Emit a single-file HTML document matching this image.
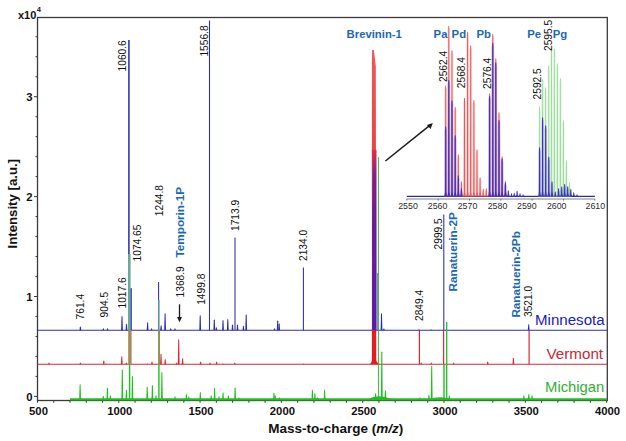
<!DOCTYPE html>
<html><head><meta charset="utf-8"><style>
html,body{margin:0;padding:0;background:#fff;}
svg{display:block;}
text{font-family:"Liberation Sans",sans-serif;}
</style></head><body>
<svg width="626" height="441" viewBox="0 0 626 441">
<rect width="626" height="441" fill="#fff"/>
<rect x="37.5" y="17.5" width="569.8" height="383" fill="none" stroke="#3a3a3a" stroke-width="1.3"/>
<line x1="34.00" y1="396.40" x2="37.5" y2="396.40" stroke="#3a3a3a" stroke-width="1"/>
<line x1="35.50" y1="376.42" x2="37.5" y2="376.42" stroke="#3a3a3a" stroke-width="1"/>
<line x1="35.50" y1="356.44" x2="37.5" y2="356.44" stroke="#3a3a3a" stroke-width="1"/>
<line x1="35.50" y1="336.46" x2="37.5" y2="336.46" stroke="#3a3a3a" stroke-width="1"/>
<line x1="35.50" y1="316.48" x2="37.5" y2="316.48" stroke="#3a3a3a" stroke-width="1"/>
<line x1="34.00" y1="296.50" x2="37.5" y2="296.50" stroke="#3a3a3a" stroke-width="1"/>
<line x1="35.50" y1="276.52" x2="37.5" y2="276.52" stroke="#3a3a3a" stroke-width="1"/>
<line x1="35.50" y1="256.54" x2="37.5" y2="256.54" stroke="#3a3a3a" stroke-width="1"/>
<line x1="35.50" y1="236.56" x2="37.5" y2="236.56" stroke="#3a3a3a" stroke-width="1"/>
<line x1="35.50" y1="216.58" x2="37.5" y2="216.58" stroke="#3a3a3a" stroke-width="1"/>
<line x1="34.00" y1="196.60" x2="37.5" y2="196.60" stroke="#3a3a3a" stroke-width="1"/>
<line x1="35.50" y1="176.62" x2="37.5" y2="176.62" stroke="#3a3a3a" stroke-width="1"/>
<line x1="35.50" y1="156.64" x2="37.5" y2="156.64" stroke="#3a3a3a" stroke-width="1"/>
<line x1="35.50" y1="136.66" x2="37.5" y2="136.66" stroke="#3a3a3a" stroke-width="1"/>
<line x1="35.50" y1="116.68" x2="37.5" y2="116.68" stroke="#3a3a3a" stroke-width="1"/>
<line x1="34.00" y1="96.70" x2="37.5" y2="96.70" stroke="#3a3a3a" stroke-width="1"/>
<line x1="35.50" y1="76.72" x2="37.5" y2="76.72" stroke="#3a3a3a" stroke-width="1"/>
<line x1="35.50" y1="56.74" x2="37.5" y2="56.74" stroke="#3a3a3a" stroke-width="1"/>
<line x1="35.50" y1="36.76" x2="37.5" y2="36.76" stroke="#3a3a3a" stroke-width="1"/>
<line x1="37.50" y1="400.5" x2="37.50" y2="402.8" stroke="#3a3a3a" stroke-width="1"/>
<line x1="53.76" y1="400.5" x2="53.76" y2="402.8" stroke="#3a3a3a" stroke-width="1"/>
<line x1="70.02" y1="400.5" x2="70.02" y2="402.8" stroke="#3a3a3a" stroke-width="1"/>
<line x1="86.28" y1="400.5" x2="86.28" y2="402.8" stroke="#3a3a3a" stroke-width="1"/>
<line x1="102.54" y1="400.5" x2="102.54" y2="402.8" stroke="#3a3a3a" stroke-width="1"/>
<line x1="118.80" y1="400.5" x2="118.80" y2="402.8" stroke="#3a3a3a" stroke-width="1"/>
<line x1="135.06" y1="400.5" x2="135.06" y2="402.8" stroke="#3a3a3a" stroke-width="1"/>
<line x1="151.32" y1="400.5" x2="151.32" y2="402.8" stroke="#3a3a3a" stroke-width="1"/>
<line x1="167.58" y1="400.5" x2="167.58" y2="402.8" stroke="#3a3a3a" stroke-width="1"/>
<line x1="183.84" y1="400.5" x2="183.84" y2="402.8" stroke="#3a3a3a" stroke-width="1"/>
<line x1="200.10" y1="400.5" x2="200.10" y2="402.8" stroke="#3a3a3a" stroke-width="1"/>
<line x1="216.36" y1="400.5" x2="216.36" y2="402.8" stroke="#3a3a3a" stroke-width="1"/>
<line x1="232.62" y1="400.5" x2="232.62" y2="402.8" stroke="#3a3a3a" stroke-width="1"/>
<line x1="248.88" y1="400.5" x2="248.88" y2="402.8" stroke="#3a3a3a" stroke-width="1"/>
<line x1="265.14" y1="400.5" x2="265.14" y2="402.8" stroke="#3a3a3a" stroke-width="1"/>
<line x1="281.40" y1="400.5" x2="281.40" y2="402.8" stroke="#3a3a3a" stroke-width="1"/>
<line x1="297.66" y1="400.5" x2="297.66" y2="402.8" stroke="#3a3a3a" stroke-width="1"/>
<line x1="313.92" y1="400.5" x2="313.92" y2="402.8" stroke="#3a3a3a" stroke-width="1"/>
<line x1="330.18" y1="400.5" x2="330.18" y2="402.8" stroke="#3a3a3a" stroke-width="1"/>
<line x1="346.44" y1="400.5" x2="346.44" y2="402.8" stroke="#3a3a3a" stroke-width="1"/>
<line x1="362.70" y1="400.5" x2="362.70" y2="402.8" stroke="#3a3a3a" stroke-width="1"/>
<line x1="378.96" y1="400.5" x2="378.96" y2="402.8" stroke="#3a3a3a" stroke-width="1"/>
<line x1="395.22" y1="400.5" x2="395.22" y2="402.8" stroke="#3a3a3a" stroke-width="1"/>
<line x1="411.48" y1="400.5" x2="411.48" y2="402.8" stroke="#3a3a3a" stroke-width="1"/>
<line x1="427.74" y1="400.5" x2="427.74" y2="402.8" stroke="#3a3a3a" stroke-width="1"/>
<line x1="444.00" y1="400.5" x2="444.00" y2="402.8" stroke="#3a3a3a" stroke-width="1"/>
<line x1="460.26" y1="400.5" x2="460.26" y2="402.8" stroke="#3a3a3a" stroke-width="1"/>
<line x1="476.52" y1="400.5" x2="476.52" y2="402.8" stroke="#3a3a3a" stroke-width="1"/>
<line x1="492.78" y1="400.5" x2="492.78" y2="402.8" stroke="#3a3a3a" stroke-width="1"/>
<line x1="509.04" y1="400.5" x2="509.04" y2="402.8" stroke="#3a3a3a" stroke-width="1"/>
<line x1="525.30" y1="400.5" x2="525.30" y2="402.8" stroke="#3a3a3a" stroke-width="1"/>
<line x1="541.56" y1="400.5" x2="541.56" y2="402.8" stroke="#3a3a3a" stroke-width="1"/>
<line x1="557.82" y1="400.5" x2="557.82" y2="402.8" stroke="#3a3a3a" stroke-width="1"/>
<line x1="574.08" y1="400.5" x2="574.08" y2="402.8" stroke="#3a3a3a" stroke-width="1"/>
<line x1="590.34" y1="400.5" x2="590.34" y2="402.8" stroke="#3a3a3a" stroke-width="1"/>
<line x1="606.60" y1="400.5" x2="606.60" y2="402.8" stroke="#3a3a3a" stroke-width="1"/>
<line x1="37.5" y1="330.2" x2="607" y2="330.2" stroke="#2c2cb2" stroke-width="1.05"/>
<line x1="37.5" y1="364.3" x2="607" y2="364.3" stroke="#d82a32" stroke-width="1.1"/>
<line x1="70" y1="399.3" x2="607" y2="399.3" stroke="#1ec01e" stroke-width="2.2"/>
<path d="M79.20 399.30 L79.60 385.00 L80.10 384.00 L80.60 385.00 L81.00 399.30Z" fill="#1ec01e"/>
<path d="M102.40 399.30 L102.80 396.40 L103.30 395.40 L103.80 396.40 L104.20 399.30Z" fill="#1ec01e"/>
<path d="M106.50 399.30 L106.90 388.50 L107.40 387.50 L107.90 388.50 L108.30 399.30Z" fill="#1ec01e"/>
<path d="M109.40 399.30 L109.80 396.00 L110.30 395.00 L110.80 396.00 L111.20 399.30Z" fill="#1ec01e"/>
<path d="M121.40 399.30 L121.80 370.20 L122.30 369.20 L122.80 370.20 L123.20 399.30Z" fill="#1ec01e"/>
<path d="M125.50 399.30 L125.90 390.60 L126.40 389.60 L126.90 390.60 L127.30 399.30Z" fill="#1ec01e"/>
<path d="M131.50 399.30 L131.90 376.70 L132.40 375.70 L132.90 376.70 L133.30 399.30Z" fill="#1ec01e"/>
<path d="M146.30 399.30 L146.70 387.40 L147.20 386.40 L147.70 387.40 L148.10 399.30Z" fill="#1ec01e"/>
<path d="M151.50 399.30 L151.90 385.70 L152.40 384.70 L152.90 385.70 L153.30 399.30Z" fill="#1ec01e"/>
<path d="M155.10 399.30 L155.50 396.00 L156.00 395.00 L156.50 396.00 L156.90 399.30Z" fill="#1ec01e"/>
<path d="M161.00 399.30 L161.40 372.70 L161.90 371.70 L162.40 372.70 L162.80 399.30Z" fill="#1ec01e"/>
<path d="M174.10 399.30 L174.50 397.00 L175.00 396.00 L175.50 397.00 L175.90 399.30Z" fill="#1ec01e"/>
<path d="M185.50 399.30 L185.90 394.70 L186.40 393.70 L186.90 394.70 L187.30 399.30Z" fill="#1ec01e"/>
<path d="M187.90 399.30 L188.30 397.00 L188.80 396.00 L189.30 397.00 L189.70 399.30Z" fill="#1ec01e"/>
<path d="M199.40 399.30 L199.80 392.80 L200.30 391.80 L200.80 392.80 L201.20 399.30Z" fill="#1ec01e"/>
<path d="M210.30 399.30 L210.70 396.00 L211.20 395.00 L211.70 396.00 L212.10 399.30Z" fill="#1ec01e"/>
<path d="M213.70 399.30 L214.10 388.50 L214.60 387.50 L215.10 388.50 L215.50 399.30Z" fill="#1ec01e"/>
<path d="M218.10 399.30 L218.50 397.00 L219.00 396.00 L219.50 397.00 L219.90 399.30Z" fill="#1ec01e"/>
<path d="M222.10 399.30 L222.50 393.00 L223.00 392.00 L223.50 393.00 L223.90 399.30Z" fill="#1ec01e"/>
<path d="M227.40 399.30 L227.80 396.00 L228.30 395.00 L228.80 396.00 L229.20 399.30Z" fill="#1ec01e"/>
<path d="M234.20 399.30 L234.60 388.20 L235.10 387.20 L235.60 388.20 L236.00 399.30Z" fill="#1ec01e"/>
<path d="M238.00 399.30 L238.40 398.00 L238.90 397.00 L239.40 398.00 L239.80 399.30Z" fill="#1ec01e"/>
<path d="M273.10 399.30 L273.50 393.60 L274.00 392.60 L274.50 393.60 L274.90 399.30Z" fill="#1ec01e"/>
<path d="M274.30 399.30 L274.70 396.00 L275.20 395.00 L275.70 396.00 L276.10 399.30Z" fill="#1ec01e"/>
<path d="M278.50 399.30 L278.90 398.00 L279.40 397.00 L279.90 398.00 L280.30 399.30Z" fill="#1ec01e"/>
<path d="M311.50 399.30 L311.90 390.60 L312.40 389.60 L312.90 390.60 L313.30 399.30Z" fill="#1ec01e"/>
<path d="M314.00 399.30 L314.40 394.00 L314.90 393.00 L315.40 394.00 L315.80 399.30Z" fill="#1ec01e"/>
<path d="M316.40 399.30 L316.80 398.00 L317.30 397.00 L317.80 398.00 L318.20 399.30Z" fill="#1ec01e"/>
<path d="M323.70 399.30 L324.10 390.60 L324.60 389.60 L325.10 390.60 L325.50 399.30Z" fill="#1ec01e"/>
<path d="M374.70 399.30 L375.10 394.00 L375.60 393.00 L376.10 394.00 L376.50 399.30Z" fill="#1ec01e"/>
<path d="M380.90 399.30 L381.30 352.20 L381.80 351.20 L382.30 352.20 L382.70 399.30Z" fill="#1ec01e"/>
<path d="M384.50 399.30 L384.90 391.00 L385.40 390.00 L385.90 391.00 L386.30 399.30Z" fill="#1ec01e"/>
<path d="M419.00 399.30 L419.40 398.00 L419.90 397.00 L420.40 398.00 L420.80 399.30Z" fill="#1ec01e"/>
<path d="M428.00 399.30 L428.40 395.50 L428.90 394.50 L429.40 395.50 L429.80 399.30Z" fill="#1ec01e"/>
<path d="M430.80 399.30 L431.20 366.60 L431.70 365.60 L432.20 366.60 L432.60 399.30Z" fill="#1ec01e"/>
<path d="M448.40 399.30 L448.80 396.00 L449.30 395.00 L449.80 396.00 L450.20 399.30Z" fill="#1ec01e"/>
<path d="M523.00 399.30 L523.40 396.00 L523.90 395.00 L524.40 396.00 L524.80 399.30Z" fill="#1ec01e"/>
<path d="M527.90 399.30 L528.30 394.70 L528.80 393.70 L529.30 394.70 L529.70 399.30Z" fill="#1ec01e"/>
<path d="M531.10 399.30 L531.50 396.00 L532.00 395.00 L532.50 396.00 L532.90 399.30Z" fill="#1ec01e"/>
<path d="M579.40 399.30 L579.80 399.00 L580.30 398.00 L580.80 399.00 L581.20 399.30Z" fill="#1ec01e"/>
<path d="M368 399.3 Q378 393 392 399.3Z" fill="#1ec01e"/>
<path d="M428 399.3 Q440 395 452 399.3Z" fill="#1ec01e"/>
<path d="M48.10 364.30 L48.50 363.30 L49.00 362.30 L49.50 363.30 L49.90 364.30Z" fill="#d82a32"/>
<path d="M79.50 364.30 L79.90 363.30 L80.40 362.30 L80.90 363.30 L81.30 364.30Z" fill="#d82a32"/>
<path d="M102.90 364.30 L103.30 361.30 L103.80 360.30 L104.30 361.30 L104.70 364.30Z" fill="#d82a32"/>
<path d="M105.10 364.30 L105.50 364.30 L106.00 363.30 L106.50 364.30 L106.90 364.30Z" fill="#d82a32"/>
<path d="M120.90 364.30 L121.30 357.00 L121.80 356.00 L122.30 357.00 L122.70 364.30Z" fill="#d82a32"/>
<path d="M125.50 364.30 L125.90 363.30 L126.40 362.30 L126.90 363.30 L127.30 364.30Z" fill="#d82a32"/>
<path d="M146.70 364.30 L147.10 364.30 L147.60 363.30 L148.10 364.30 L148.50 364.30Z" fill="#d82a32"/>
<path d="M151.10 364.30 L151.50 362.30 L152.00 361.30 L152.50 362.30 L152.90 364.30Z" fill="#d82a32"/>
<path d="M160.10 364.30 L160.50 354.50 L161.00 353.50 L161.50 354.50 L161.90 364.30Z" fill="#d82a32"/>
<path d="M164.30 364.30 L164.70 359.80 L165.20 358.80 L165.70 359.80 L166.10 364.30Z" fill="#d82a32"/>
<path d="M175.70 364.30 L176.10 363.30 L176.60 362.30 L177.10 363.30 L177.50 364.30Z" fill="#d82a32"/>
<path d="M177.80 364.30 L178.20 340.00 L178.70 339.00 L179.20 340.00 L179.60 364.30Z" fill="#d82a32"/>
<path d="M181.70 364.30 L182.10 359.00 L182.60 358.00 L183.10 359.00 L183.50 364.30Z" fill="#d82a32"/>
<path d="M199.70 364.30 L200.10 362.30 L200.60 361.30 L201.10 362.30 L201.50 364.30Z" fill="#d82a32"/>
<path d="M209.10 364.30 L209.50 363.30 L210.00 362.30 L210.50 363.30 L210.90 364.30Z" fill="#d82a32"/>
<path d="M215.70 364.30 L216.10 362.30 L216.60 361.30 L217.10 362.30 L217.50 364.30Z" fill="#d82a32"/>
<path d="M222.10 364.30 L222.50 364.30 L223.00 363.30 L223.50 364.30 L223.90 364.30Z" fill="#d82a32"/>
<path d="M233.90 364.30 L234.30 363.30 L234.80 362.30 L235.30 363.30 L235.70 364.30Z" fill="#d82a32"/>
<path d="M302.50 364.30 L302.90 364.30 L303.40 363.30 L303.90 364.30 L304.30 364.30Z" fill="#d82a32"/>
<path d="M420.30 364.30 L420.70 363.30 L421.20 362.30 L421.70 363.30 L422.10 364.30Z" fill="#d82a32"/>
<path d="M430.40 364.30 L430.80 363.30 L431.30 362.30 L431.80 363.30 L432.20 364.30Z" fill="#d82a32"/>
<path d="M452.80 364.30 L453.20 363.30 L453.70 362.30 L454.20 363.30 L454.60 364.30Z" fill="#d82a32"/>
<path d="M486.80 364.30 L487.20 362.30 L487.70 361.30 L488.20 362.30 L488.60 364.30Z" fill="#d82a32"/>
<path d="M512.50 364.30 L512.90 358.60 L513.40 357.60 L513.90 358.60 L514.30 364.30Z" fill="#d82a32"/>
<line x1="419.40" y1="330.20" x2="419.40" y2="364.30" stroke="#d82a32" stroke-width="1.2"/>
<line x1="443.60" y1="330.20" x2="443.60" y2="364.30" stroke="#d82a32" stroke-width="1.2"/>
<line x1="529.10" y1="330.20" x2="529.10" y2="364.30" stroke="#d82a32" stroke-width="1.2"/>
<path d="M79.50 330.20 L79.90 327.20 L80.40 326.20 L80.90 327.20 L81.30 330.20Z" fill="#2c2cb2"/>
<path d="M102.50 330.20 L102.90 329.00 L103.40 328.00 L103.90 329.00 L104.30 330.20Z" fill="#2c2cb2"/>
<path d="M106.60 330.20 L107.00 329.00 L107.50 328.00 L108.00 329.00 L108.40 330.20Z" fill="#2c2cb2"/>
<path d="M121.10 330.20 L121.50 316.80 L122.00 315.80 L122.50 316.80 L122.90 330.20Z" fill="#2c2cb2"/>
<path d="M125.60 330.20 L126.00 324.40 L126.50 323.40 L127.00 324.40 L127.40 330.20Z" fill="#2c2cb2"/>
<path d="M146.70 330.20 L147.10 323.00 L147.60 322.00 L148.10 323.00 L148.50 330.20Z" fill="#2c2cb2"/>
<path d="M150.70 330.20 L151.10 329.00 L151.60 328.00 L152.10 329.00 L152.50 330.20Z" fill="#2c2cb2"/>
<path d="M160.20 330.20 L160.60 326.00 L161.10 325.00 L161.60 326.00 L162.00 330.20Z" fill="#2c2cb2"/>
<path d="M164.20 330.20 L164.60 314.10 L165.10 313.10 L165.60 314.10 L166.00 330.20Z" fill="#2c2cb2"/>
<path d="M169.80 330.20 L170.20 329.00 L170.70 328.00 L171.20 329.00 L171.60 330.20Z" fill="#2c2cb2"/>
<path d="M174.10 330.20 L174.50 329.00 L175.00 328.00 L175.50 329.00 L175.90 330.20Z" fill="#2c2cb2"/>
<path d="M199.30 330.20 L199.70 316.00 L200.20 315.00 L200.70 316.00 L201.10 330.20Z" fill="#2c2cb2"/>
<path d="M213.40 330.20 L213.80 320.20 L214.30 319.20 L214.80 320.20 L215.20 330.20Z" fill="#2c2cb2"/>
<path d="M215.40 330.20 L215.80 328.00 L216.30 327.00 L216.80 328.00 L217.20 330.20Z" fill="#2c2cb2"/>
<path d="M222.10 330.20 L222.50 320.80 L223.00 319.80 L223.50 320.80 L223.90 330.20Z" fill="#2c2cb2"/>
<path d="M226.90 330.20 L227.30 319.70 L227.80 318.70 L228.30 319.70 L228.70 330.20Z" fill="#2c2cb2"/>
<path d="M231.60 330.20 L232.00 325.30 L232.50 324.30 L233.00 325.30 L233.40 330.20Z" fill="#2c2cb2"/>
<path d="M236.60 330.20 L237.00 325.30 L237.50 324.30 L238.00 325.30 L238.40 330.20Z" fill="#2c2cb2"/>
<path d="M242.50 330.20 L242.90 326.60 L243.40 325.60 L243.90 326.60 L244.30 330.20Z" fill="#2c2cb2"/>
<path d="M245.30 330.20 L245.70 315.00 L246.20 314.00 L246.70 315.00 L247.10 330.20Z" fill="#2c2cb2"/>
<path d="M273.60 330.20 L274.00 329.00 L274.50 328.00 L275.00 329.00 L275.40 330.20Z" fill="#2c2cb2"/>
<path d="M276.80 330.20 L277.20 321.30 L277.70 320.30 L278.20 321.30 L278.60 330.20Z" fill="#2c2cb2"/>
<path d="M278.30 330.20 L278.70 324.20 L279.20 323.20 L279.70 324.20 L280.10 330.20Z" fill="#2c2cb2"/>
<path d="M380.60 330.20 L381.00 314.10 L381.50 313.10 L382.00 314.10 L382.40 330.20Z" fill="#2c2cb2"/>
<path d="M383.00 330.20 L383.40 329.00 L383.90 328.00 L384.40 329.00 L384.80 330.20Z" fill="#2c2cb2"/>
<path d="M418.10 330.20 L418.50 330.00 L419.00 329.00 L419.50 330.00 L419.90 330.20Z" fill="#2c2cb2"/>
<path d="M430.10 330.20 L430.50 330.00 L431.00 329.00 L431.50 330.00 L431.90 330.20Z" fill="#2c2cb2"/>
<path d="M527.80 330.20 L528.20 324.90 L528.70 323.90 L529.20 324.90 L529.60 330.20Z" fill="#2c2cb2"/>
<line x1="128.90" y1="40.00" x2="128.90" y2="330.20" stroke="#2c2cb2" stroke-width="1.05"/>
<line x1="209.50" y1="20.40" x2="209.50" y2="330.20" stroke="#2c2cb2" stroke-width="1.05"/>
<line x1="158.60" y1="282.00" x2="158.60" y2="330.20" stroke="#2c2cb2" stroke-width="1.05"/>
<line x1="235.00" y1="237.60" x2="235.00" y2="330.20" stroke="#2c2cb2" stroke-width="1.05"/>
<line x1="303.40" y1="267.50" x2="303.40" y2="330.20" stroke="#2c2cb2" stroke-width="1.05"/>
<line x1="443.80" y1="214.40" x2="443.80" y2="330.20" stroke="#2c2cb2" stroke-width="1.05"/>
<rect x="130.2" y="288.2" width="1.6" height="42.0" fill="#2c2cb2"/>
<rect x="128.1" y="254" width="2.5" height="76.2" fill="#6aab96"/>
<line x1="128.90" y1="40.00" x2="128.90" y2="254.00" stroke="#2c2cb2" stroke-width="1.05"/>
<rect x="128.2" y="330.2" width="3.4" height="34.1" fill="#a88a55"/>
<line x1="129.60" y1="364.30" x2="129.60" y2="399.30" stroke="#1ec01e" stroke-width="1.4"/>
<rect x="158.1" y="300" width="1.4" height="30.2" fill="#5a9aa0"/>
<rect x="158.0" y="330.2" width="2" height="34.1" fill="#8a9a50"/>
<line x1="158.90" y1="364.30" x2="158.90" y2="399.30" stroke="#1ec01e" stroke-width="1.4"/>
<line x1="444.00" y1="364.30" x2="444.00" y2="399.30" stroke="#1ec01e" stroke-width="1.4"/>
<line x1="446.70" y1="322.00" x2="446.70" y2="399.30" stroke="#1ec01e" stroke-width="1.3"/>
<defs><linearGradient id="redg" gradientUnits="userSpaceOnUse" x1="0" y1="50" x2="0" y2="364"><stop offset="0" stop-color="#ee5858"/><stop offset="0.34" stop-color="#e84444"/><stop offset="0.88" stop-color="#e02024"/><stop offset="1" stop-color="#e01c20"/></linearGradient></defs>
<path d="M372.1 50 L373.9 50 L375.8 66 L376.3 360.3 Q376.8 363.3 381 364.3 L369.5 364.3 Q371.6 363.3 371.9 360.3 L371.9 66 Z" fill="url(#redg)"/>
<defs><linearGradient id="bandg" x1="0" y1="0" x2="0" y2="1"><stop offset="0" stop-color="#e0303a"/><stop offset="0.06" stop-color="#b02a70"/><stop offset="0.15" stop-color="#7a2090"/><stop offset="0.4" stop-color="#661c98"/><stop offset="0.7" stop-color="#5a1ca6"/><stop offset="1" stop-color="#541cae"/></linearGradient><linearGradient id="fringe" x1="0" y1="0" x2="0" y2="1"><stop offset="0" stop-color="#e0303a"/><stop offset="1" stop-color="#e0303a" stop-opacity="0"/></linearGradient></defs>
<rect x="372.2" y="150" width="4.3" height="180.2" fill="url(#bandg)"/>
<rect x="371.9" y="150" width="1.0" height="60" fill="url(#fringe)"/>
<line x1="378.40" y1="157.00" x2="378.40" y2="399.30" stroke="#3cb43c" stroke-width="1.0"/>
<line x1="377.60" y1="273.00" x2="377.60" y2="330.20" stroke="#2c6a8a" stroke-width="0.7"/>
<line x1="385.4" y1="161" x2="429.5" y2="125.6" stroke="#1a1a1a" stroke-width="1.5"/>
<path d="M432.8 122.9 L426.9 125.0 L430.6 129.0 Z" fill="#1a1a1a"/>
<line x1="179.5" y1="304.3" x2="179.5" y2="318" stroke="#1a1a1a" stroke-width="1.3"/>
<path d="M177.0 317 L182.0 317 L179.5 322.3 Z" fill="#1a1a1a"/>
<line x1="406.7" y1="199" x2="594.9" y2="199" stroke="#7f8a70" stroke-width="1.2"/>
<line x1="406.80" y1="199" x2="406.80" y2="200.6" stroke="#555" stroke-width="0.8"/>
<line x1="438.15" y1="199" x2="438.15" y2="200.6" stroke="#555" stroke-width="0.8"/>
<line x1="469.50" y1="199" x2="469.50" y2="200.6" stroke="#555" stroke-width="0.8"/>
<line x1="500.85" y1="199" x2="500.85" y2="200.6" stroke="#555" stroke-width="0.8"/>
<line x1="532.20" y1="199" x2="532.20" y2="200.6" stroke="#555" stroke-width="0.8"/>
<line x1="563.55" y1="199" x2="563.55" y2="200.6" stroke="#555" stroke-width="0.8"/>
<line x1="594.90" y1="199" x2="594.90" y2="200.6" stroke="#555" stroke-width="0.8"/>
<line x1="406.7" y1="196.4" x2="594.9" y2="196.4" stroke="#2c2cb2" stroke-width="1.1"/>
<path d="M444.20 196.40 L444.40 89.30 L445.70 86.30 L447.00 89.30 L447.20 196.40Z" fill="#e85858" fill-opacity="0.22"/>
<path d="M444.10 196.40 Q444.95 194.90 445.05 191.40 L445.20 86.20 L445.70 85.30 L446.20 86.20 L446.35 191.40 Q446.45 194.90 447.30 196.40Z" fill="#e85858"/>
<path d="M447.30 196.40 L447.50 29.70 L448.80 26.70 L450.10 29.70 L450.30 196.40Z" fill="#e85858" fill-opacity="0.22"/>
<path d="M447.20 196.40 Q448.05 194.90 448.15 191.40 L448.30 26.60 L448.80 25.70 L449.30 26.60 L449.45 191.40 Q449.55 194.90 450.40 196.40Z" fill="#e85858"/>
<path d="M450.50 196.40 L450.70 54.20 L452.00 51.20 L453.30 54.20 L453.50 196.40Z" fill="#e85858" fill-opacity="0.22"/>
<path d="M450.40 196.40 Q451.25 194.90 451.35 191.40 L451.50 51.10 L452.00 50.20 L452.50 51.10 L452.65 191.40 Q452.75 194.90 453.60 196.40Z" fill="#e85858"/>
<path d="M453.70 196.40 L453.90 110.70 L455.20 107.70 L456.50 110.70 L456.70 196.40Z" fill="#e85858" fill-opacity="0.22"/>
<path d="M453.60 196.40 Q454.45 194.90 454.55 191.40 L454.70 107.60 L455.20 106.70 L455.70 107.60 L455.85 191.40 Q455.95 194.90 456.80 196.40Z" fill="#e85858"/>
<path d="M456.80 196.40 L457.00 158.00 L458.30 155.00 L459.60 158.00 L459.80 196.40Z" fill="#e85858" fill-opacity="0.22"/>
<path d="M456.70 196.40 Q457.55 194.90 457.65 191.40 L457.80 154.90 L458.30 154.00 L458.80 154.90 L458.95 191.40 Q459.05 194.90 459.90 196.40Z" fill="#e85858"/>
<path d="M459.90 196.40 L460.10 185.00 L461.40 182.00 L462.70 185.00 L462.90 196.40Z" fill="#e85858" fill-opacity="0.22"/>
<path d="M459.80 196.40 Q460.65 195.01 460.75 191.78 L460.90 181.90 L461.40 181.00 L461.90 181.90 L462.05 191.78 Q462.15 195.01 463.00 196.40Z" fill="#e85858"/>
<path d="M463.00 196.40 L463.20 101.70 L464.50 98.70 L465.80 101.70 L466.00 196.40Z" fill="#e85858" fill-opacity="0.22"/>
<path d="M462.90 196.40 Q463.75 194.90 463.85 191.40 L464.00 98.60 L464.50 97.70 L465.00 98.60 L465.15 191.40 Q465.25 194.90 466.10 196.40Z" fill="#e85858"/>
<path d="M466.10 196.40 L466.30 35.60 L467.60 32.60 L468.90 35.60 L469.10 196.40Z" fill="#e85858" fill-opacity="0.22"/>
<path d="M466.00 196.40 Q466.85 194.90 466.95 191.40 L467.10 32.50 L467.60 31.60 L468.10 32.50 L468.25 191.40 Q468.35 194.90 469.20 196.40Z" fill="#e85858"/>
<path d="M469.20 196.40 L469.40 49.20 L470.70 46.20 L472.00 49.20 L472.20 196.40Z" fill="#e85858" fill-opacity="0.22"/>
<path d="M469.10 196.40 Q469.95 194.90 470.05 191.40 L470.20 46.10 L470.70 45.20 L471.20 46.10 L471.35 191.40 Q471.45 194.90 472.30 196.40Z" fill="#e85858"/>
<path d="M472.40 196.40 L472.60 103.80 L473.90 100.80 L475.20 103.80 L475.40 196.40Z" fill="#e85858" fill-opacity="0.22"/>
<path d="M472.30 196.40 Q473.15 194.90 473.25 191.40 L473.40 100.70 L473.90 99.80 L474.40 100.70 L474.55 191.40 Q474.65 194.90 475.50 196.40Z" fill="#e85858"/>
<path d="M475.50 196.40 L475.70 153.00 L477.00 150.00 L478.30 153.00 L478.50 196.40Z" fill="#e85858" fill-opacity="0.22"/>
<path d="M475.40 196.40 Q476.25 194.90 476.35 191.40 L476.50 149.90 L477.00 149.00 L477.50 149.90 L477.65 191.40 Q477.75 194.90 478.60 196.40Z" fill="#e85858"/>
<path d="M478.60 196.40 L478.80 181.00 L480.10 178.00 L481.40 181.00 L481.60 196.40Z" fill="#e85858" fill-opacity="0.22"/>
<path d="M478.50 196.40 Q479.35 194.90 479.45 191.40 L479.60 177.90 L480.10 177.00 L480.60 177.90 L480.75 191.40 Q480.85 194.90 481.70 196.40Z" fill="#e85858"/>
<path d="M481.70 196.40 L481.90 192.50 L483.20 189.50 L484.50 192.50 L484.70 196.40Z" fill="#e85858" fill-opacity="0.22"/>
<path d="M481.60 196.40 Q482.45 195.69 482.55 194.03 L482.70 189.40 L483.20 188.50 L483.70 189.40 L483.85 194.03 Q483.95 195.69 484.80 196.40Z" fill="#e85858"/>
<path d="M484.80 196.40 L485.00 192.00 L486.30 189.00 L487.60 192.00 L487.80 196.40Z" fill="#e85858" fill-opacity="0.22"/>
<path d="M484.70 196.40 Q485.55 195.64 485.65 193.88 L485.80 188.90 L486.30 188.00 L486.80 188.90 L486.95 193.88 Q487.05 195.64 487.90 196.40Z" fill="#e85858"/>
<path d="M488.10 196.40 L488.30 97.10 L489.60 94.10 L490.90 97.10 L491.10 196.40Z" fill="#e85858" fill-opacity="0.22"/>
<path d="M488.00 196.40 Q488.85 194.90 488.95 191.40 L489.10 94.00 L489.60 93.10 L490.10 94.00 L490.25 191.40 Q490.35 194.90 491.20 196.40Z" fill="#e85858"/>
<path d="M491.30 196.40 L491.50 37.60 L492.80 34.60 L494.10 37.60 L494.30 196.40Z" fill="#e85858" fill-opacity="0.22"/>
<path d="M491.20 196.40 Q492.05 194.90 492.15 191.40 L492.30 34.50 L492.80 33.60 L493.30 34.50 L493.45 191.40 Q493.55 194.90 494.40 196.40Z" fill="#e85858"/>
<path d="M494.30 196.40 L494.50 62.00 L495.80 59.00 L497.10 62.00 L497.30 196.40Z" fill="#e85858" fill-opacity="0.22"/>
<path d="M494.20 196.40 Q495.05 194.90 495.15 191.40 L495.30 58.90 L495.80 58.00 L496.30 58.90 L496.45 191.40 Q496.55 194.90 497.40 196.40Z" fill="#e85858"/>
<path d="M497.50 196.40 L497.70 116.00 L499.00 113.00 L500.30 116.00 L500.50 196.40Z" fill="#e85858" fill-opacity="0.22"/>
<path d="M497.40 196.40 Q498.25 194.90 498.35 191.40 L498.50 112.90 L499.00 112.00 L499.50 112.90 L499.65 191.40 Q499.75 194.90 500.60 196.40Z" fill="#e85858"/>
<path d="M500.60 196.40 L500.80 160.00 L502.10 157.00 L503.40 160.00 L503.60 196.40Z" fill="#e85858" fill-opacity="0.22"/>
<path d="M500.50 196.40 Q501.35 194.90 501.45 191.40 L501.60 156.90 L502.10 156.00 L502.60 156.90 L502.75 191.40 Q502.85 194.90 503.70 196.40Z" fill="#e85858"/>
<path d="M503.90 196.40 L504.10 185.00 L505.40 182.00 L506.70 185.00 L506.90 196.40Z" fill="#e85858" fill-opacity="0.22"/>
<path d="M503.80 196.40 Q504.65 195.01 504.75 191.78 L504.90 181.90 L505.40 181.00 L505.90 181.90 L506.05 191.78 Q506.15 195.01 507.00 196.40Z" fill="#e85858"/>
<path d="M538.10 196.40 L538.30 110.00 L539.60 107.00 L540.90 110.00 L541.10 196.40Z" fill="#9edc9e" fill-opacity="0.22"/>
<path d="M538.00 196.40 Q538.85 194.90 538.95 191.40 L539.10 106.90 L539.60 106.00 L540.10 106.90 L540.25 191.40 Q540.35 194.90 541.20 196.40Z" fill="#9edc9e"/>
<path d="M541.10 196.40 L541.30 83.00 L542.60 80.00 L543.90 83.00 L544.10 196.40Z" fill="#9edc9e" fill-opacity="0.22"/>
<path d="M541.00 196.40 Q541.85 194.90 541.95 191.40 L542.10 79.90 L542.60 79.00 L543.10 79.90 L543.25 191.40 Q543.35 194.90 544.20 196.40Z" fill="#9edc9e"/>
<path d="M544.10 196.40 L544.30 91.00 L545.60 88.00 L546.90 91.00 L547.10 196.40Z" fill="#9edc9e" fill-opacity="0.22"/>
<path d="M544.00 196.40 Q544.85 194.90 544.95 191.40 L545.10 87.90 L545.60 87.00 L546.10 87.90 L546.25 191.40 Q546.35 194.90 547.20 196.40Z" fill="#9edc9e"/>
<path d="M547.20 196.40 L547.40 69.00 L548.70 66.00 L550.00 69.00 L550.20 196.40Z" fill="#9edc9e" fill-opacity="0.22"/>
<path d="M547.10 196.40 Q547.95 194.90 548.05 191.40 L548.20 65.90 L548.70 65.00 L549.20 65.90 L549.35 191.40 Q549.45 194.90 550.30 196.40Z" fill="#9edc9e"/>
<path d="M550.00 196.40 L550.20 51.50 L551.50 48.50 L552.80 51.50 L553.00 196.40Z" fill="#9edc9e" fill-opacity="0.22"/>
<path d="M549.90 196.40 Q550.75 194.90 550.85 191.40 L551.00 48.40 L551.50 47.50 L552.00 48.40 L552.15 191.40 Q552.25 194.90 553.10 196.40Z" fill="#9edc9e"/>
<path d="M552.90 196.40 L553.10 52.00 L554.40 49.00 L555.70 52.00 L555.90 196.40Z" fill="#9edc9e" fill-opacity="0.22"/>
<path d="M552.80 196.40 Q553.65 194.90 553.75 191.40 L553.90 48.90 L554.40 48.00 L554.90 48.90 L555.05 191.40 Q555.15 194.90 556.00 196.40Z" fill="#9edc9e"/>
<path d="M555.90 196.40 L556.10 67.00 L557.40 64.00 L558.70 67.00 L558.90 196.40Z" fill="#9edc9e" fill-opacity="0.22"/>
<path d="M555.80 196.40 Q556.65 194.90 556.75 191.40 L556.90 63.90 L557.40 63.00 L557.90 63.90 L558.05 191.40 Q558.15 194.90 559.00 196.40Z" fill="#9edc9e"/>
<path d="M558.90 196.40 L559.10 82.00 L560.40 79.00 L561.70 82.00 L561.90 196.40Z" fill="#9edc9e" fill-opacity="0.22"/>
<path d="M558.80 196.40 Q559.65 194.90 559.75 191.40 L559.90 78.90 L560.40 78.00 L560.90 78.90 L561.05 191.40 Q561.15 194.90 562.00 196.40Z" fill="#9edc9e"/>
<path d="M561.90 196.40 L562.10 124.00 L563.40 121.00 L564.70 124.00 L564.90 196.40Z" fill="#9edc9e" fill-opacity="0.22"/>
<path d="M561.80 196.40 Q562.65 194.90 562.75 191.40 L562.90 120.90 L563.40 120.00 L563.90 120.90 L564.05 191.40 Q564.15 194.90 565.00 196.40Z" fill="#9edc9e"/>
<path d="M564.90 196.40 L565.10 164.00 L566.40 161.00 L567.70 164.00 L567.90 196.40Z" fill="#9edc9e" fill-opacity="0.22"/>
<path d="M564.80 196.40 Q565.65 194.90 565.75 191.40 L565.90 160.90 L566.40 160.00 L566.90 160.90 L567.05 191.40 Q567.15 194.90 568.00 196.40Z" fill="#9edc9e"/>
<path d="M568.00 196.40 L568.20 186.00 L569.50 183.00 L570.80 186.00 L571.00 196.40Z" fill="#9edc9e" fill-opacity="0.22"/>
<path d="M567.90 196.40 Q568.75 195.10 568.85 192.08 L569.00 182.90 L569.50 182.00 L570.00 182.90 L570.15 192.08 Q570.25 195.10 571.10 196.40Z" fill="#9edc9e"/>
<path d="M444.20 196.40 L444.40 130.00 L445.70 127.00 L447.00 130.00 L447.20 196.40Z" fill="#3a2fc0" fill-opacity="0.22"/>
<path d="M444.10 196.40 Q444.95 194.90 445.05 191.40 L445.20 126.90 L445.70 126.00 L446.20 126.90 L446.35 191.40 Q446.45 194.90 447.30 196.40Z" fill="#3a2fc0"/>
<path d="M447.30 196.40 L447.50 83.80 L448.80 80.80 L450.10 83.80 L450.30 196.40Z" fill="#3a2fc0" fill-opacity="0.22"/>
<path d="M447.20 196.40 Q448.05 194.90 448.15 191.40 L448.30 80.70 L448.80 79.80 L449.30 80.70 L449.45 191.40 Q449.55 194.90 450.40 196.40Z" fill="#3a2fc0"/>
<path d="M450.50 196.40 L450.70 104.00 L452.00 101.00 L453.30 104.00 L453.50 196.40Z" fill="#3a2fc0" fill-opacity="0.22"/>
<path d="M450.40 196.40 Q451.25 194.90 451.35 191.40 L451.50 100.90 L452.00 100.00 L452.50 100.90 L452.65 191.40 Q452.75 194.90 453.60 196.40Z" fill="#3a2fc0"/>
<path d="M453.70 196.40 L453.90 139.00 L455.20 136.00 L456.50 139.00 L456.70 196.40Z" fill="#3a2fc0" fill-opacity="0.22"/>
<path d="M453.60 196.40 Q454.45 194.90 454.55 191.40 L454.70 135.90 L455.20 135.00 L455.70 135.90 L455.85 191.40 Q455.95 194.90 456.80 196.40Z" fill="#3a2fc0"/>
<path d="M456.80 196.40 L457.00 179.00 L458.30 176.00 L459.60 179.00 L459.80 196.40Z" fill="#3a2fc0" fill-opacity="0.22"/>
<path d="M456.70 196.40 Q457.55 194.90 457.65 191.40 L457.80 175.90 L458.30 175.00 L458.80 175.90 L458.95 191.40 Q459.05 194.90 459.90 196.40Z" fill="#3a2fc0"/>
<path d="M459.90 196.40 L460.10 192.00 L461.40 189.00 L462.70 192.00 L462.90 196.40Z" fill="#3a2fc0" fill-opacity="0.22"/>
<path d="M459.80 196.40 Q460.65 195.64 460.75 193.88 L460.90 188.90 L461.40 188.00 L461.90 188.90 L462.05 193.88 Q462.15 195.64 463.00 196.40Z" fill="#3a2fc0"/>
<path d="M488.10 196.40 L488.30 99.50 L489.60 96.50 L490.90 99.50 L491.10 196.40Z" fill="#3a2fc0" fill-opacity="0.22"/>
<path d="M488.00 196.40 Q488.85 194.90 488.95 191.40 L489.10 96.40 L489.60 95.50 L490.10 96.40 L490.25 191.40 Q490.35 194.90 491.20 196.40Z" fill="#3a2fc0"/>
<path d="M491.30 196.40 L491.50 46.40 L492.80 43.40 L494.10 46.40 L494.30 196.40Z" fill="#3a2fc0" fill-opacity="0.22"/>
<path d="M491.20 196.40 Q492.05 194.90 492.15 191.40 L492.30 43.30 L492.80 42.40 L493.30 43.30 L493.45 191.40 Q493.55 194.90 494.40 196.40Z" fill="#3a2fc0"/>
<path d="M494.30 196.40 L494.50 66.00 L495.80 63.00 L497.10 66.00 L497.30 196.40Z" fill="#3a2fc0" fill-opacity="0.22"/>
<path d="M494.20 196.40 Q495.05 194.90 495.15 191.40 L495.30 62.90 L495.80 62.00 L496.30 62.90 L496.45 191.40 Q496.55 194.90 497.40 196.40Z" fill="#3a2fc0"/>
<path d="M497.50 196.40 L497.70 123.70 L499.00 120.70 L500.30 123.70 L500.50 196.40Z" fill="#3a2fc0" fill-opacity="0.22"/>
<path d="M497.40 196.40 Q498.25 194.90 498.35 191.40 L498.50 120.60 L499.00 119.70 L499.50 120.60 L499.65 191.40 Q499.75 194.90 500.60 196.40Z" fill="#3a2fc0"/>
<path d="M500.60 196.40 L500.80 162.00 L502.10 159.00 L503.40 162.00 L503.60 196.40Z" fill="#3a2fc0" fill-opacity="0.22"/>
<path d="M500.50 196.40 Q501.35 194.90 501.45 191.40 L501.60 158.90 L502.10 158.00 L502.60 158.90 L502.75 191.40 Q502.85 194.90 503.70 196.40Z" fill="#3a2fc0"/>
<path d="M503.90 196.40 L504.10 186.00 L505.40 183.00 L506.70 186.00 L506.90 196.40Z" fill="#3a2fc0" fill-opacity="0.22"/>
<path d="M503.80 196.40 Q504.65 195.10 504.75 192.08 L504.90 182.90 L505.40 182.00 L505.90 182.90 L506.05 192.08 Q506.15 195.10 507.00 196.40Z" fill="#3a2fc0"/>
<path d="M506.80 196.40 L507.00 194.00 L508.30 191.00 L509.60 194.00 L509.80 196.40Z" fill="#3a2fc0" fill-opacity="0.22"/>
<path d="M506.70 196.40 Q507.55 195.82 507.65 194.48 L507.80 190.90 L508.30 190.00 L508.80 190.90 L508.95 194.48 Q509.05 195.82 509.90 196.40Z" fill="#3a2fc0"/>
<path d="M510.00 196.40 L510.20 197.00 L511.50 194.00 L512.80 197.00 L513.00 196.40Z" fill="#3a2fc0" fill-opacity="0.22"/>
<path d="M509.90 196.40 Q510.75 196.09 510.85 195.38 L511.00 193.90 L511.50 193.00 L512.00 193.90 L512.15 195.38 Q512.25 196.09 513.10 196.40Z" fill="#3a2fc0"/>
<path d="M512.70 196.40 L512.90 196.50 L514.20 193.50 L515.50 196.50 L515.70 196.40Z" fill="#3a2fc0" fill-opacity="0.22"/>
<path d="M512.60 196.40 Q513.45 196.05 513.55 195.23 L513.70 193.40 L514.20 192.50 L514.70 193.40 L514.85 195.23 Q514.95 196.05 515.80 196.40Z" fill="#3a2fc0"/>
<path d="M515.60 196.40 L515.80 194.50 L517.10 191.50 L518.40 194.50 L518.60 196.40Z" fill="#3a2fc0" fill-opacity="0.22"/>
<path d="M515.50 196.40 Q516.35 195.87 516.45 194.63 L516.60 191.40 L517.10 190.50 L517.60 191.40 L517.75 194.63 Q517.85 195.87 518.70 196.40Z" fill="#3a2fc0"/>
<path d="M518.50 196.40 L518.70 197.00 L520.00 194.00 L521.30 197.00 L521.50 196.40Z" fill="#3a2fc0" fill-opacity="0.22"/>
<path d="M518.40 196.40 Q519.25 196.09 519.35 195.38 L519.50 193.90 L520.00 193.00 L520.50 193.90 L520.65 195.38 Q520.75 196.09 521.60 196.40Z" fill="#3a2fc0"/>
<path d="M521.60 196.40 L521.80 198.00 L523.10 195.00 L524.40 198.00 L524.60 196.40Z" fill="#3a2fc0" fill-opacity="0.22"/>
<path d="M521.50 196.40 Q522.35 196.18 522.45 195.68 L522.60 194.90 L523.10 194.00 L523.60 194.90 L523.75 195.68 Q523.85 196.18 524.70 196.40Z" fill="#3a2fc0"/>
<path d="M538.10 196.40 L538.30 151.00 L539.60 148.00 L540.90 151.00 L541.10 196.40Z" fill="#3a2fc0" fill-opacity="0.22"/>
<path d="M538.00 196.40 Q538.85 194.90 538.95 191.40 L539.10 147.90 L539.60 147.00 L540.10 147.90 L540.25 191.40 Q540.35 194.90 541.20 196.40Z" fill="#3a2fc0"/>
<path d="M541.10 196.40 L541.30 121.00 L542.60 118.00 L543.90 121.00 L544.10 196.40Z" fill="#3a2fc0" fill-opacity="0.22"/>
<path d="M541.00 196.40 Q541.85 194.90 541.95 191.40 L542.10 117.90 L542.60 117.00 L543.10 117.90 L543.25 191.40 Q543.35 194.90 544.20 196.40Z" fill="#3a2fc0"/>
<path d="M544.20 196.40 L544.40 129.00 L545.70 126.00 L547.00 129.00 L547.20 196.40Z" fill="#3a2fc0" fill-opacity="0.22"/>
<path d="M544.10 196.40 Q544.95 194.90 545.05 191.40 L545.20 125.90 L545.70 125.00 L546.20 125.90 L546.35 191.40 Q546.45 194.90 547.30 196.40Z" fill="#3a2fc0"/>
<path d="M547.30 196.40 L547.50 160.50 L548.80 157.50 L550.10 160.50 L550.30 196.40Z" fill="#3a2fc0" fill-opacity="0.22"/>
<path d="M547.20 196.40 Q548.05 194.90 548.15 191.40 L548.30 157.40 L548.80 156.50 L549.30 157.40 L549.45 191.40 Q549.55 194.90 550.40 196.40Z" fill="#3a2fc0"/>
<path d="M550.50 196.40 L550.70 185.00 L552.00 182.00 L553.30 185.00 L553.50 196.40Z" fill="#3a2fc0" fill-opacity="0.22"/>
<path d="M550.40 196.40 Q551.25 195.01 551.35 191.78 L551.50 181.90 L552.00 181.00 L552.50 181.90 L552.65 191.78 Q552.75 195.01 553.60 196.40Z" fill="#3a2fc0"/>
<path d="M553.80 196.40 L554.00 195.30 L555.30 192.30 L556.60 195.30 L556.80 196.40Z" fill="#3a2fc0" fill-opacity="0.22"/>
<path d="M553.70 196.40 Q554.55 195.94 554.65 194.87 L554.80 192.20 L555.30 191.30 L555.80 192.20 L555.95 194.87 Q556.05 195.94 556.90 196.40Z" fill="#3a2fc0"/>
<path d="M557.10 196.40 L557.30 192.00 L558.60 189.00 L559.90 192.00 L560.10 196.40Z" fill="#3a2fc0" fill-opacity="0.22"/>
<path d="M557.00 196.40 Q557.85 195.64 557.95 193.88 L558.10 188.90 L558.60 188.00 L559.10 188.90 L559.25 193.88 Q559.35 195.64 560.20 196.40Z" fill="#3a2fc0"/>
<path d="M560.20 196.40 L560.40 190.20 L561.70 187.20 L563.00 190.20 L563.20 196.40Z" fill="#3a2fc0" fill-opacity="0.22"/>
<path d="M560.10 196.40 Q560.95 195.48 561.05 193.34 L561.20 187.10 L561.70 186.20 L562.20 187.10 L562.35 193.34 Q562.45 195.48 563.30 196.40Z" fill="#3a2fc0"/>
<path d="M563.20 196.40 L563.40 187.70 L564.70 184.70 L566.00 187.70 L566.20 196.40Z" fill="#3a2fc0" fill-opacity="0.22"/>
<path d="M563.10 196.40 Q563.95 195.26 564.05 192.59 L564.20 184.60 L564.70 183.70 L565.20 184.60 L565.35 192.59 Q565.45 195.26 566.30 196.40Z" fill="#3a2fc0"/>
<path d="M566.20 196.40 L566.40 190.00 L567.70 187.00 L569.00 190.00 L569.20 196.40Z" fill="#3a2fc0" fill-opacity="0.22"/>
<path d="M566.10 196.40 Q566.95 195.46 567.05 193.28 L567.20 186.90 L567.70 186.00 L568.20 186.90 L568.35 193.28 Q568.45 195.46 569.30 196.40Z" fill="#3a2fc0"/>
<path d="M569.30 196.40 L569.50 192.80 L570.80 189.80 L572.10 192.80 L572.30 196.40Z" fill="#3a2fc0" fill-opacity="0.22"/>
<path d="M569.20 196.40 Q570.05 195.72 570.15 194.12 L570.30 189.70 L570.80 188.80 L571.30 189.70 L571.45 194.12 Q571.55 195.72 572.40 196.40Z" fill="#3a2fc0"/>
<path d="M572.30 196.40 L572.50 196.00 L573.80 193.00 L575.10 196.00 L575.30 196.40Z" fill="#3a2fc0" fill-opacity="0.22"/>
<path d="M572.20 196.40 Q573.05 196.00 573.15 195.08 L573.30 192.90 L573.80 192.00 L574.30 192.90 L574.45 195.08 Q574.55 196.00 575.40 196.40Z" fill="#3a2fc0"/>
<path d="M575.50 196.40 L575.70 198.00 L577.00 195.00 L578.30 198.00 L578.50 196.40Z" fill="#3a2fc0" fill-opacity="0.22"/>
<path d="M575.40 196.40 Q576.25 196.18 576.35 195.68 L576.50 194.90 L577.00 194.00 L577.50 194.90 L577.65 195.68 Q577.75 196.18 578.60 196.40Z" fill="#3a2fc0"/>
<text x="18.00" y="19.00" font-size="11" fill="#111" font-weight="bold" text-anchor="start">x10</text>
<text x="36.80" y="11.60" font-size="7.5" fill="#111" font-weight="bold" text-anchor="start">4</text>
<text x="32.60" y="100.50" font-size="11.3" fill="#111" font-weight="bold" text-anchor="end">3</text>
<text x="32.60" y="200.60" font-size="11.3" fill="#111" font-weight="bold" text-anchor="end">2</text>
<text x="32.60" y="300.50" font-size="11.3" fill="#111" font-weight="bold" text-anchor="end">1</text>
<text x="32.60" y="400.50" font-size="11.3" fill="#111" font-weight="bold" text-anchor="end">0</text>
<text x="38.50" y="414.60" font-size="11.3" fill="#111" font-weight="bold" text-anchor="middle">500</text>
<text x="119.80" y="414.60" font-size="11.3" fill="#111" font-weight="bold" text-anchor="middle">1000</text>
<text x="201.10" y="414.60" font-size="11.3" fill="#111" font-weight="bold" text-anchor="middle">1500</text>
<text x="282.40" y="414.60" font-size="11.3" fill="#111" font-weight="bold" text-anchor="middle">2000</text>
<text x="363.70" y="414.60" font-size="11.3" fill="#111" font-weight="bold" text-anchor="middle">2500</text>
<text x="445.00" y="414.60" font-size="11.3" fill="#111" font-weight="bold" text-anchor="middle">3000</text>
<text x="526.30" y="414.60" font-size="11.3" fill="#111" font-weight="bold" text-anchor="middle">3500</text>
<text x="607.60" y="414.60" font-size="11.3" fill="#111" font-weight="bold" text-anchor="middle">4000</text>
<text x="17.20" y="203.70" font-size="13.2" fill="#111" font-weight="bold" text-anchor="middle" transform="rotate(-90 17.20 203.70)">Intensity [a.u.]</text>
<text x="268.2" y="433" font-size="13.5" fill="#111" font-weight="bold">Mass-to-charge (<tspan font-style="italic">m/z</tspan>)</text>
<text x="84.20" y="319.40" font-size="10.2" fill="#111" font-weight="normal" text-anchor="start" transform="rotate(-90 84.20 319.40)">761.4</text>
<text x="108.10" y="317.40" font-size="10.2" fill="#111" font-weight="normal" text-anchor="start" transform="rotate(-90 108.10 317.40)">904.5</text>
<text x="126.30" y="308.50" font-size="10.2" fill="#111" font-weight="normal" text-anchor="start" transform="rotate(-90 126.30 308.50)">1017.6</text>
<text x="125.60" y="71.40" font-size="10.2" fill="#111" font-weight="normal" text-anchor="start" transform="rotate(-90 125.60 71.40)">1060.6</text>
<text x="140.60" y="261.40" font-size="10.2" fill="#111" font-weight="normal" text-anchor="start" transform="rotate(-90 140.60 261.40)">1074.65</text>
<text x="162.80" y="216.20" font-size="10.2" fill="#111" font-weight="normal" text-anchor="start" transform="rotate(-90 162.80 216.20)">1244.8</text>
<text x="184.00" y="297.40" font-size="10.2" fill="#111" font-weight="normal" text-anchor="start" transform="rotate(-90 184.00 297.40)">1368.9</text>
<text x="205.20" y="304.80" font-size="10.2" fill="#111" font-weight="normal" text-anchor="start" transform="rotate(-90 205.20 304.80)">1499.8</text>
<text x="207.80" y="56.60" font-size="10.2" fill="#111" font-weight="normal" text-anchor="start" transform="rotate(-90 207.80 56.60)">1556.8</text>
<text x="239.20" y="231.00" font-size="10.2" fill="#111" font-weight="normal" text-anchor="start" transform="rotate(-90 239.20 231.00)">1713.9</text>
<text x="307.10" y="261.00" font-size="10.2" fill="#111" font-weight="normal" text-anchor="start" transform="rotate(-90 307.10 261.00)">2134.0</text>
<text x="422.70" y="321.00" font-size="10.2" fill="#111" font-weight="normal" text-anchor="start" transform="rotate(-90 422.70 321.00)">2849.4</text>
<text x="441.70" y="249.40" font-size="10.2" fill="#111" font-weight="normal" text-anchor="start" transform="rotate(-90 441.70 249.40)">2999.5</text>
<text x="532.20" y="317.00" font-size="10.2" fill="#111" font-weight="normal" text-anchor="start" transform="rotate(-90 532.20 317.00)">3521.0</text>
<text x="446.50" y="82.00" font-size="10.2" fill="#111" font-weight="normal" text-anchor="start" transform="rotate(-90 446.50 82.00)">2562.4</text>
<text x="465.50" y="88.20" font-size="10.2" fill="#111" font-weight="normal" text-anchor="start" transform="rotate(-90 465.50 88.20)">2568.4</text>
<text x="490.80" y="88.90" font-size="10.2" fill="#111" font-weight="normal" text-anchor="start" transform="rotate(-90 490.80 88.90)">2576.4</text>
<text x="541.20" y="99.40" font-size="10.2" fill="#111" font-weight="normal" text-anchor="start" transform="rotate(-90 541.20 99.40)">2592.5</text>
<text x="551.50" y="51.00" font-size="10.2" fill="#111" font-weight="normal" text-anchor="start" transform="rotate(-90 551.50 51.00)">2595.5</text>
<text x="346.60" y="37.90" font-size="11.3" fill="#1c68b0" font-weight="bold" text-anchor="start">Brevinin-1</text>
<text x="183.80" y="257.40" font-size="11.7" fill="#1c68b0" font-weight="bold" text-anchor="start" transform="rotate(-90 183.80 257.40)">Temporin-1P</text>
<text x="456.60" y="291.40" font-size="11.7" fill="#1c68b0" font-weight="bold" text-anchor="start" transform="rotate(-90 456.60 291.40)">Ranatuerin-2P</text>
<text x="520.00" y="317.60" font-size="11.7" fill="#1c68b0" font-weight="bold" text-anchor="start" transform="rotate(-90 520.00 317.60)">Ranatuerin-2Pb</text>
<text x="433.60" y="37.80" font-size="11.3" fill="#1c68b0" font-weight="bold" text-anchor="start">Pa</text>
<text x="451.60" y="37.80" font-size="11.3" fill="#1c68b0" font-weight="bold" text-anchor="start">Pd</text>
<text x="476.40" y="37.80" font-size="11.3" fill="#1c68b0" font-weight="bold" text-anchor="start">Pb</text>
<text x="527.30" y="37.80" font-size="11.3" fill="#1c68b0" font-weight="bold" text-anchor="start">Pe</text>
<text x="552.80" y="37.80" font-size="11.3" fill="#1c68b0" font-weight="bold" text-anchor="start">Pg</text>
<text x="408.00" y="208.50" font-size="8.8" fill="#2a2a2a" font-weight="normal" text-anchor="middle">2550</text>
<text x="437.60" y="208.50" font-size="8.8" fill="#2a2a2a" font-weight="normal" text-anchor="middle">2560</text>
<text x="467.50" y="208.50" font-size="8.8" fill="#2a2a2a" font-weight="normal" text-anchor="middle">2570</text>
<text x="497.50" y="208.50" font-size="8.8" fill="#2a2a2a" font-weight="normal" text-anchor="middle">2580</text>
<text x="526.80" y="208.50" font-size="8.8" fill="#2a2a2a" font-weight="normal" text-anchor="middle">2590</text>
<text x="556.70" y="208.50" font-size="8.8" fill="#2a2a2a" font-weight="normal" text-anchor="middle">2600</text>
<text x="595.30" y="208.50" font-size="8.8" fill="#2a2a2a" font-weight="normal" text-anchor="middle">2610</text>
<text x="535.00" y="325.20" font-size="15.1" fill="#2020c4" font-weight="normal" text-anchor="start">Minnesota</text>
<text x="546.50" y="358.90" font-size="15.2" fill="#c42a36" font-weight="normal" text-anchor="start">Vermont</text>
<text x="545.10" y="392.10" font-size="14.8" fill="#2eb22e" font-weight="normal" text-anchor="start">Michigan</text>
</svg></body></html>
